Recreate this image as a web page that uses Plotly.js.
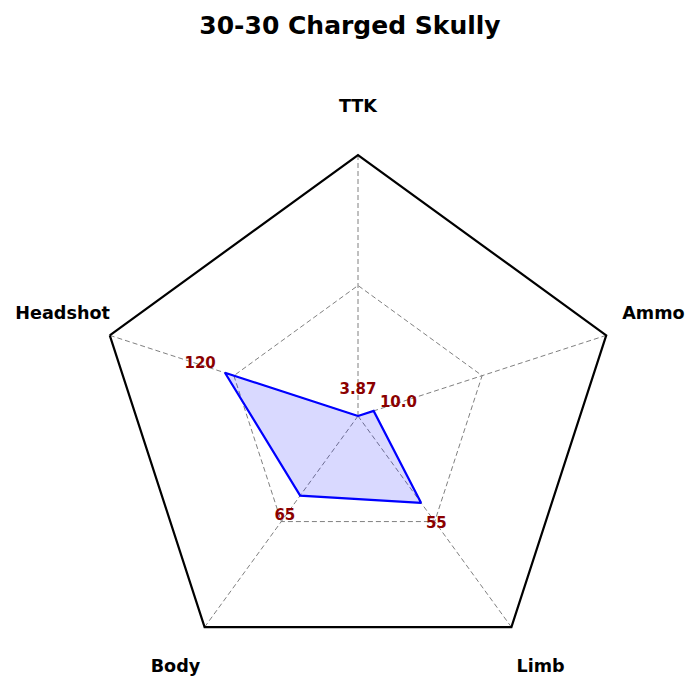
<!DOCTYPE html>
<html>
<head>
<meta charset="utf-8">
<script src="https://cdn.plot.ly/plotly-3.0.1.min.js"></script>
<style>html,body{margin:0;padding:0;background:#fff;}#chart{width:700px;height:700px;}</style>
</head>
<body>
<div id="chart"></div>
<script>
// Categories in drawing order (clockwise from top)
const categories = ['TTK', 'Ammo', 'Limb', 'Body', 'Headshot'];
// Raw value labels shown on the chart
const valueLabels = ['3.87', '10.0', '55', '65', '120'];
// Normalized values (0..1)
const normValues = [0.0, 0.063, 0.411, 0.377, 0.536];
const labelOffset = 0.1;
const categoryLabelR = 1.19;

const font = 'DejaVu Sans, sans-serif';
const W = 700, H = 700;
const cx = 358, cyTop = 416, R = 261;   // polar centre (px from left/top) and radius
const labelRange = 1.2;                 // range of the label subplots

const closedR = normValues.concat([normValues[0]]);
const closedTheta = categories.concat([categories[0]]);

// bounding box of a polar sector (same rule Plotly uses, origin included)
function sectorBBox(s0, s1) {
  const xs = [0], ys = [0];
  for (let a = s0; a <= s1; a += 0.5) {
    xs.push(Math.cos(a * Math.PI / 180));
    ys.push(Math.sin(a * Math.PI / 180));
  }
  return {x0: Math.min(...xs), x1: Math.max(...xs), y0: Math.min(...ys), y1: Math.max(...ys)};
}
function sectorDomain(s0, s1, radiusPx, dyPx) {
  const b = sectorBBox(s0, s1);
  const cyBottom = H - (cyTop + (dyPx || 0));
  return {
    x: [(cx + b.x0 * radiusPx) / W, (cx + b.x1 * radiusPx) / W],
    y: [(cyBottom + b.y0 * radiusPx) / H, (cyBottom + b.y1 * radiusPx) / H]
  };
}

const hiddenRadial = {range: [0, labelRange], visible: false, showgrid: false, showline: false, showticklabels: false, ticks: ''};
function hiddenAngular() {
  return {type: 'category', categoryorder: 'array', categoryarray: categories,
          rotation: 90, direction: 'clockwise', visible: false,
          showgrid: false, showline: false, showticklabels: false, ticks: ''};
}

// which label subplot each category goes to (dy: small vertical nudge of label baseline)
const labelGroups = [
  {sub: 'polar2', cats: ['TTK'], sector: [60, 120], dy: 2.5},
  {sub: 'polar5', cats: ['Ammo', 'Headshot'], sector: [0, 180], dy: -5.5},
  {sub: 'polar3', cats: ['Body'], sector: [-130, -122], dy: 0},
  {sub: 'polar4', cats: ['Limb'], sector: [-58, -50], dy: 0}
];

const traces = [
  {
    type: 'scatterpolar',
    r: closedR,
    theta: closedTheta,
    mode: 'lines',
    fill: 'toself',
    fillcolor: 'rgba(0,0,255,0.15)',
    line: {color: 'blue', width: 2.2},
    hoverinfo: 'skip',
    cliponaxis: false
  },
  {
    type: 'scatterpolar',
    r: normValues.map(v => v + labelOffset),
    theta: categories,
    mode: 'text',
    text: valueLabels,
    textposition: 'middle center',
    textfont: {family: font, size: 15, color: '#8B0000', weight: 'bold'},
    hoverinfo: 'skip',
    cliponaxis: false
  }
];

labelGroups.forEach(g => {
  traces.push({
    type: 'scatterpolar',
    subplot: g.sub,
    r: g.cats.map(() => categoryLabelR),
    theta: g.cats,
    mode: 'text',
    text: g.cats,
    textposition: 'middle center',
    textfont: {family: font, size: 17.6, color: 'black', weight: 'bold'},
    hoverinfo: 'skip',
    cliponaxis: false
  });
});

const layout = {
  width: W,
  height: H,
  margin: {l: 0, r: 0, t: 0, b: 0},
  paper_bgcolor: 'white',
  showlegend: false,
  hovermode: false,
  title: {
    text: '<b>30-30 Charged Skully</b>',
    font: {family: font, size: 25, color: 'black'},
    x: 0.5, xanchor: 'center',
    y: 1 - 25 / H, yanchor: 'middle', yref: 'container'
  },
  polar: {
    domain: sectorDomain(0, 360, R, 0),
    gridshape: 'linear',
    bgcolor: 'white',
    radialaxis: {
      range: [0, 1],
      tickvals: [0.5],
      showticklabels: false,
      ticks: '',
      showline: false,
      gridcolor: 'gray',
      gridwidth: 1,
      griddash: '5px,3px'
    },
    angularaxis: {
      type: 'category',
      categoryorder: 'array',
      categoryarray: categories,
      rotation: 90,
      direction: 'clockwise',
      showticklabels: false,
      ticks: '',
      showline: true,
      linecolor: 'black',
      linewidth: 2.2,
      gridcolor: 'gray',
      gridwidth: 1,
      griddash: '5px,3px'
    }
  }
};

labelGroups.forEach(g => {
  layout[g.sub] = {
    domain: sectorDomain(g.sector[0], g.sector[1], R * labelRange, g.dy),
    sector: g.sector,
    bgcolor: 'rgba(0,0,0,0)',
    radialaxis: Object.assign({}, hiddenRadial),
    angularaxis: hiddenAngular()
  };
});

Plotly.newPlot('chart', traces, layout, {staticPlot: true, displayModeBar: false});
</script>
</body>
</html>
